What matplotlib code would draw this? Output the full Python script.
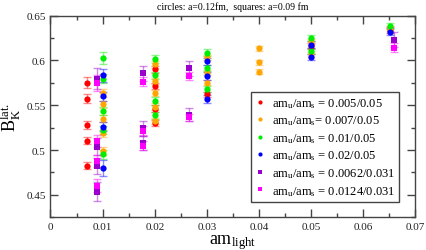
import numpy as np
import matplotlib
matplotlib.use('Agg')
import matplotlib.pyplot as plt
from matplotlib.lines import Line2D

plt.rcParams['font.family'] = ['Liberation Serif', 'DejaVu Serif']
plt.rcParams['mathtext.default'] = 'regular'

# circles, a=0.12 fm
red_x = [0.00706, 0.00706, 0.00706, 0.00706, 0.00706, 0.0200, 0.0200, 0.0200, 0.0200, 0.0300, 0.0500, 0.0651]
red_y = [0.5752, 0.5574, 0.5281, 0.5103, 0.4826, 0.5900, 0.5714, 0.5463, 0.5300, 0.5622, 0.6160, 0.6340]
red_e = [0.0060, 0.0050, 0.0045, 0.0040, 0.0040, 0.0035, 0.0035, 0.0035, 0.0035, 0.0030, 0.0030, 0.0030]

orange_x = [0.0100, 0.0100, 0.0100, 0.0100, 0.0100, 0.0200, 0.0200, 0.0200, 0.0200, 0.0200,
            0.0300, 0.0300, 0.0300, 0.0400, 0.0400, 0.0400, 0.0500, 0.0500, 0.0651]
orange_y = [0.5640, 0.5511, 0.5352, 0.5186, 0.4993, 0.5956, 0.5770, 0.5641, 0.5486, 0.5326,
            0.6035, 0.5863, 0.5752, 0.6137, 0.5981, 0.5874, 0.6215, 0.6067, 0.6355]
orange_e = [0.0045, 0.0040, 0.0040, 0.0040, 0.0045, 0.0035, 0.0035, 0.0035, 0.0035, 0.0035,
            0.0030, 0.0030, 0.0030, 0.0030, 0.0030, 0.0030, 0.0030, 0.0030, 0.0030]

green_x = [0.0100, 0.0100, 0.0100, 0.0100, 0.0100, 0.0200, 0.0200, 0.0200, 0.0200,
           0.0300, 0.0300, 0.0300, 0.0500, 0.0500, 0.0651]
green_y = [0.6030, 0.5797, 0.5437, 0.5226, 0.4956, 0.6019, 0.5837, 0.5548, 0.5389,
           0.6086, 0.5919, 0.5678, 0.6252, 0.6104, 0.6382]
green_e = [0.0070, 0.0050, 0.0045, 0.0045, 0.0050, 0.0045, 0.0040, 0.0040, 0.0040,
           0.0040, 0.0035, 0.0035, 0.0035, 0.0035, 0.0035]

blue_x = [0.0100, 0.0100, 0.0100, 0.0100, 0.0300, 0.0300, 0.0300, 0.0500, 0.0500, 0.0651]
blue_y = [0.5833, 0.5603, 0.5263, 0.4800, 0.5992, 0.5826, 0.5574, 0.6178, 0.6041, 0.6322]
blue_e = [0.0070, 0.0050, 0.0045, 0.0085, 0.0040, 0.0040, 0.0045, 0.0035, 0.0035, 0.0040]

# squares, a=0.09 fm
purple_x = [0.0089, 0.0089, 0.0089, 0.0089, 0.0177, 0.0177, 0.0177, 0.0266, 0.0266, 0.0658]
purple_y = [0.5797, 0.5040, 0.4819, 0.4537, 0.5856, 0.5241, 0.5078, 0.5911, 0.5395, 0.6233]
purple_e = [0.0120, 0.0090, 0.0090, 0.0110, 0.0080, 0.0080, 0.0080, 0.0080, 0.0075, 0.0080]

magenta_x = [0.0089, 0.0089, 0.0089, 0.0089, 0.0177, 0.0177, 0.0177, 0.0266, 0.0266, 0.0658]
magenta_y = [0.5752, 0.5103, 0.4881, 0.4603, 0.5763, 0.5214, 0.5048, 0.5826, 0.5365, 0.6141]
magenta_e = [0.0090, 0.0070, 0.0065, 0.0070, 0.0050, 0.0050, 0.0050, 0.0040, 0.0040, 0.0050]

labels = ['am$_u$/am$_s$ = 0.005/0.05', 'am$_u$/am$_s$= 0.007/0.05', 'am$_u$/am$_s$ = 0.01/0.05',
          'am$_u$/am$_s$ = 0.02/0.05', 'am$_u$/am$_s$ = 0.0062/0.031', 'am$_u$/am$_s$ = 0.0124/0.031']

series = [
    (red_x, red_y, red_e, '#ff0000', 'o'),
    (orange_x, orange_y, orange_e, '#ffa500', 'o'),
    (green_x, green_y, green_e, '#00ee00', 'o'),
    (blue_x, blue_y, blue_e, '#0000ff', 'o'),
    (purple_x, purple_y, purple_e, '#9900cc', 's'),
    (magenta_x, magenta_y, magenta_e, '#ff00ff', 's'),
]

fig = plt.figure(figsize=(4.26, 2.51), dpi=100)
ax = fig.add_axes([0.1185, 0.1303, 0.8568, 0.8032])

handles = []
for (x, y, e, c, m), lab in zip(series, labels):
    ax.errorbar(x, y, yerr=e, fmt='none', ecolor=c, alpha=0.45, elinewidth=1.0,
                capsize=3, capthick=1.0, zorder=2)
    ax.plot(x, y, ls='none', marker=m, color=c, ms=4.5, mew=0, zorder=3)
    handles.append(Line2D([], [], ls='none', marker=m, color=c, ms=3, mew=0, label=lab))

ax.set_xlim(0, 0.07)
ax.set_ylim(0.425, 0.65)
ax.set_xticks([0, 0.01, 0.02, 0.03, 0.04, 0.05, 0.06, 0.07])
ax.set_xticklabels(['0', '0.01', '0.02', '0.03', '0.04', '0.05', '0.06', '0.07'])
ax.set_yticks([0.45, 0.5, 0.55, 0.6, 0.65])
ax.set_yticklabels(['0.45', '0.5', '0.55', '0.6', '0.65'])
ax.set_xticks(np.arange(0.005, 0.07, 0.01), minor=True)
ax.set_yticks(np.arange(0.425, 0.65, 0.05), minor=True)
ax.tick_params(which='both', direction='in', top=True, right=True, labelsize=8,
               color='#444444', labelcolor='#222222', width=1)
ax.tick_params(which='major', length=6)
ax.tick_params(which='minor', length=3)
for s in ax.spines.values():
    s.set_color('#444444')
    s.set_linewidth(1)

ax.set_xlabel('am$_{light}$', fontsize=13, labelpad=1)
ax.set_ylabel('B$_K^{lat.}$', fontsize=13, labelpad=2)
ax.set_title('circles: a=0.12fm,  squares: a=0.09 fm', fontsize=7, pad=5)

leg = ax.legend(handles=handles, loc='lower right', bbox_to_anchor=(0.955, 0.076),
                borderaxespad=0, fontsize=9, frameon=True, fancybox=False, framealpha=1,
                edgecolor='#444444', handlelength=0.8, handletextpad=0.5,
                labelspacing=0.3, borderpad=0.35)
leg.get_frame().set_linewidth(1)

fig.savefig('out.png', dpi=100)
